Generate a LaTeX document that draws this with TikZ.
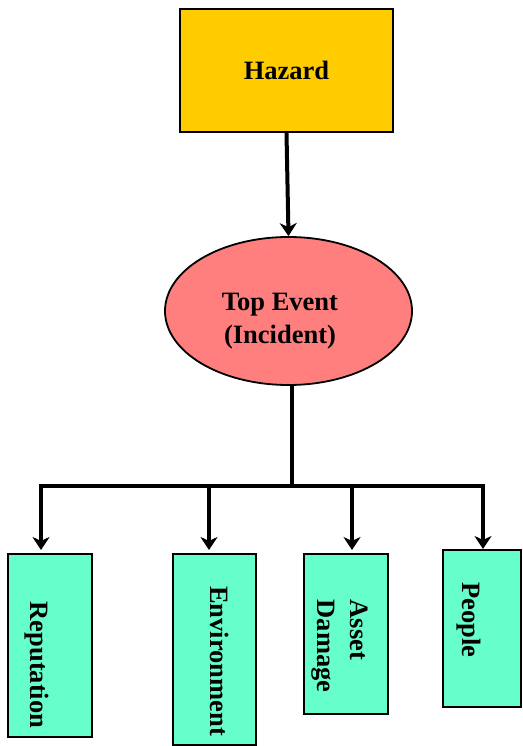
\documentclass[tikz,border=0pt]{standalone}
\usepackage{fontspec}
\setmainfont{Liberation Serif}
\usetikzlibrary{shapes.geometric,arrows.meta}
\definecolor{hazfill}{HTML}{FFCC00}
\definecolor{evfill}{HTML}{FF7F7F}
\definecolor{conseqfill}{HTML}{66FFCC}
\tikzset{
  hazardbox/.style={draw=black, line width=2pt, fill=hazfill, inner sep=0pt},
  eventell/.style={ellipse, draw=black, line width=1.8pt, fill=evfill, inner sep=0pt},
  conseqbox/.style={draw=black, line width=2pt, fill=conseqfill, inner sep=0pt},
  vtext/.style={rotate=-90, align=left, inner sep=0pt},
  conn/.style={line width=4pt, draw=black, line cap=rect},
  arr/.style={line width=4pt, draw=black, -{Stealth[length=13pt,width=17pt,inset=4pt]}},
}
\begin{document}
\begin{tikzpicture}[x=1pt,y=-1pt, font=\bfseries\fontsize{26.5}{33}\selectfont]
\useasboundingbox (0,0) rectangle (522,746);
\node[hazardbox, minimum width=213pt, minimum height=123pt] (hz) at (286.5,70.5) {Hazard};
\node[eventell, minimum width=247pt, minimum height=148pt] (ev) at (288.5,311) {};
\node[align=center, inner sep=0pt] (evtxt) at (280,321) {Top Event\\(Incident)};
\draw[arr] (hz.south) -- (ev.north);

\node[conseqbox, minimum width=84pt, minimum height=183pt] (rep) at (50,645.5) {};
\node[conseqbox, minimum width=83pt, minimum height=191pt] (env) at (214.5,649.5) {};
\node[conseqbox, minimum width=84pt, minimum height=160pt] (ad) at (346,634) {};
\node[conseqbox, minimum width=78pt, minimum height=157pt] (ppl) at (482,628.5) {};

\node[vtext] (reptxt) at (37,665) {Reputation};
\node[vtext] (envtxt) at (220,661) {Environment};
\node[vtext] (adtxt) at (340,646) {Asset\\Damage};
\node[vtext] (ppltxt) at (469,620) {People};

\coordinate (j) at (292,486);
\coordinate (b1) at (41,486);
\coordinate (b2) at (209,486);
\coordinate (b3) at (352,486);
\coordinate (b4) at (483,486);
\draw[conn] (ev.south -| j) -- (j);
\draw[conn] (b1) -- (b4);
\draw[arr, shorten >=3pt] (b1) -- (b1 |- rep.north);
\draw[arr, shorten >=3pt] (b2) -- (b2 |- env.north);
\draw[arr, shorten >=3pt] (b3) -- (b3 |- ad.north);
\draw[arr] (b4) -- (b4 |- ppl.north);
\end{tikzpicture}
\end{document}
